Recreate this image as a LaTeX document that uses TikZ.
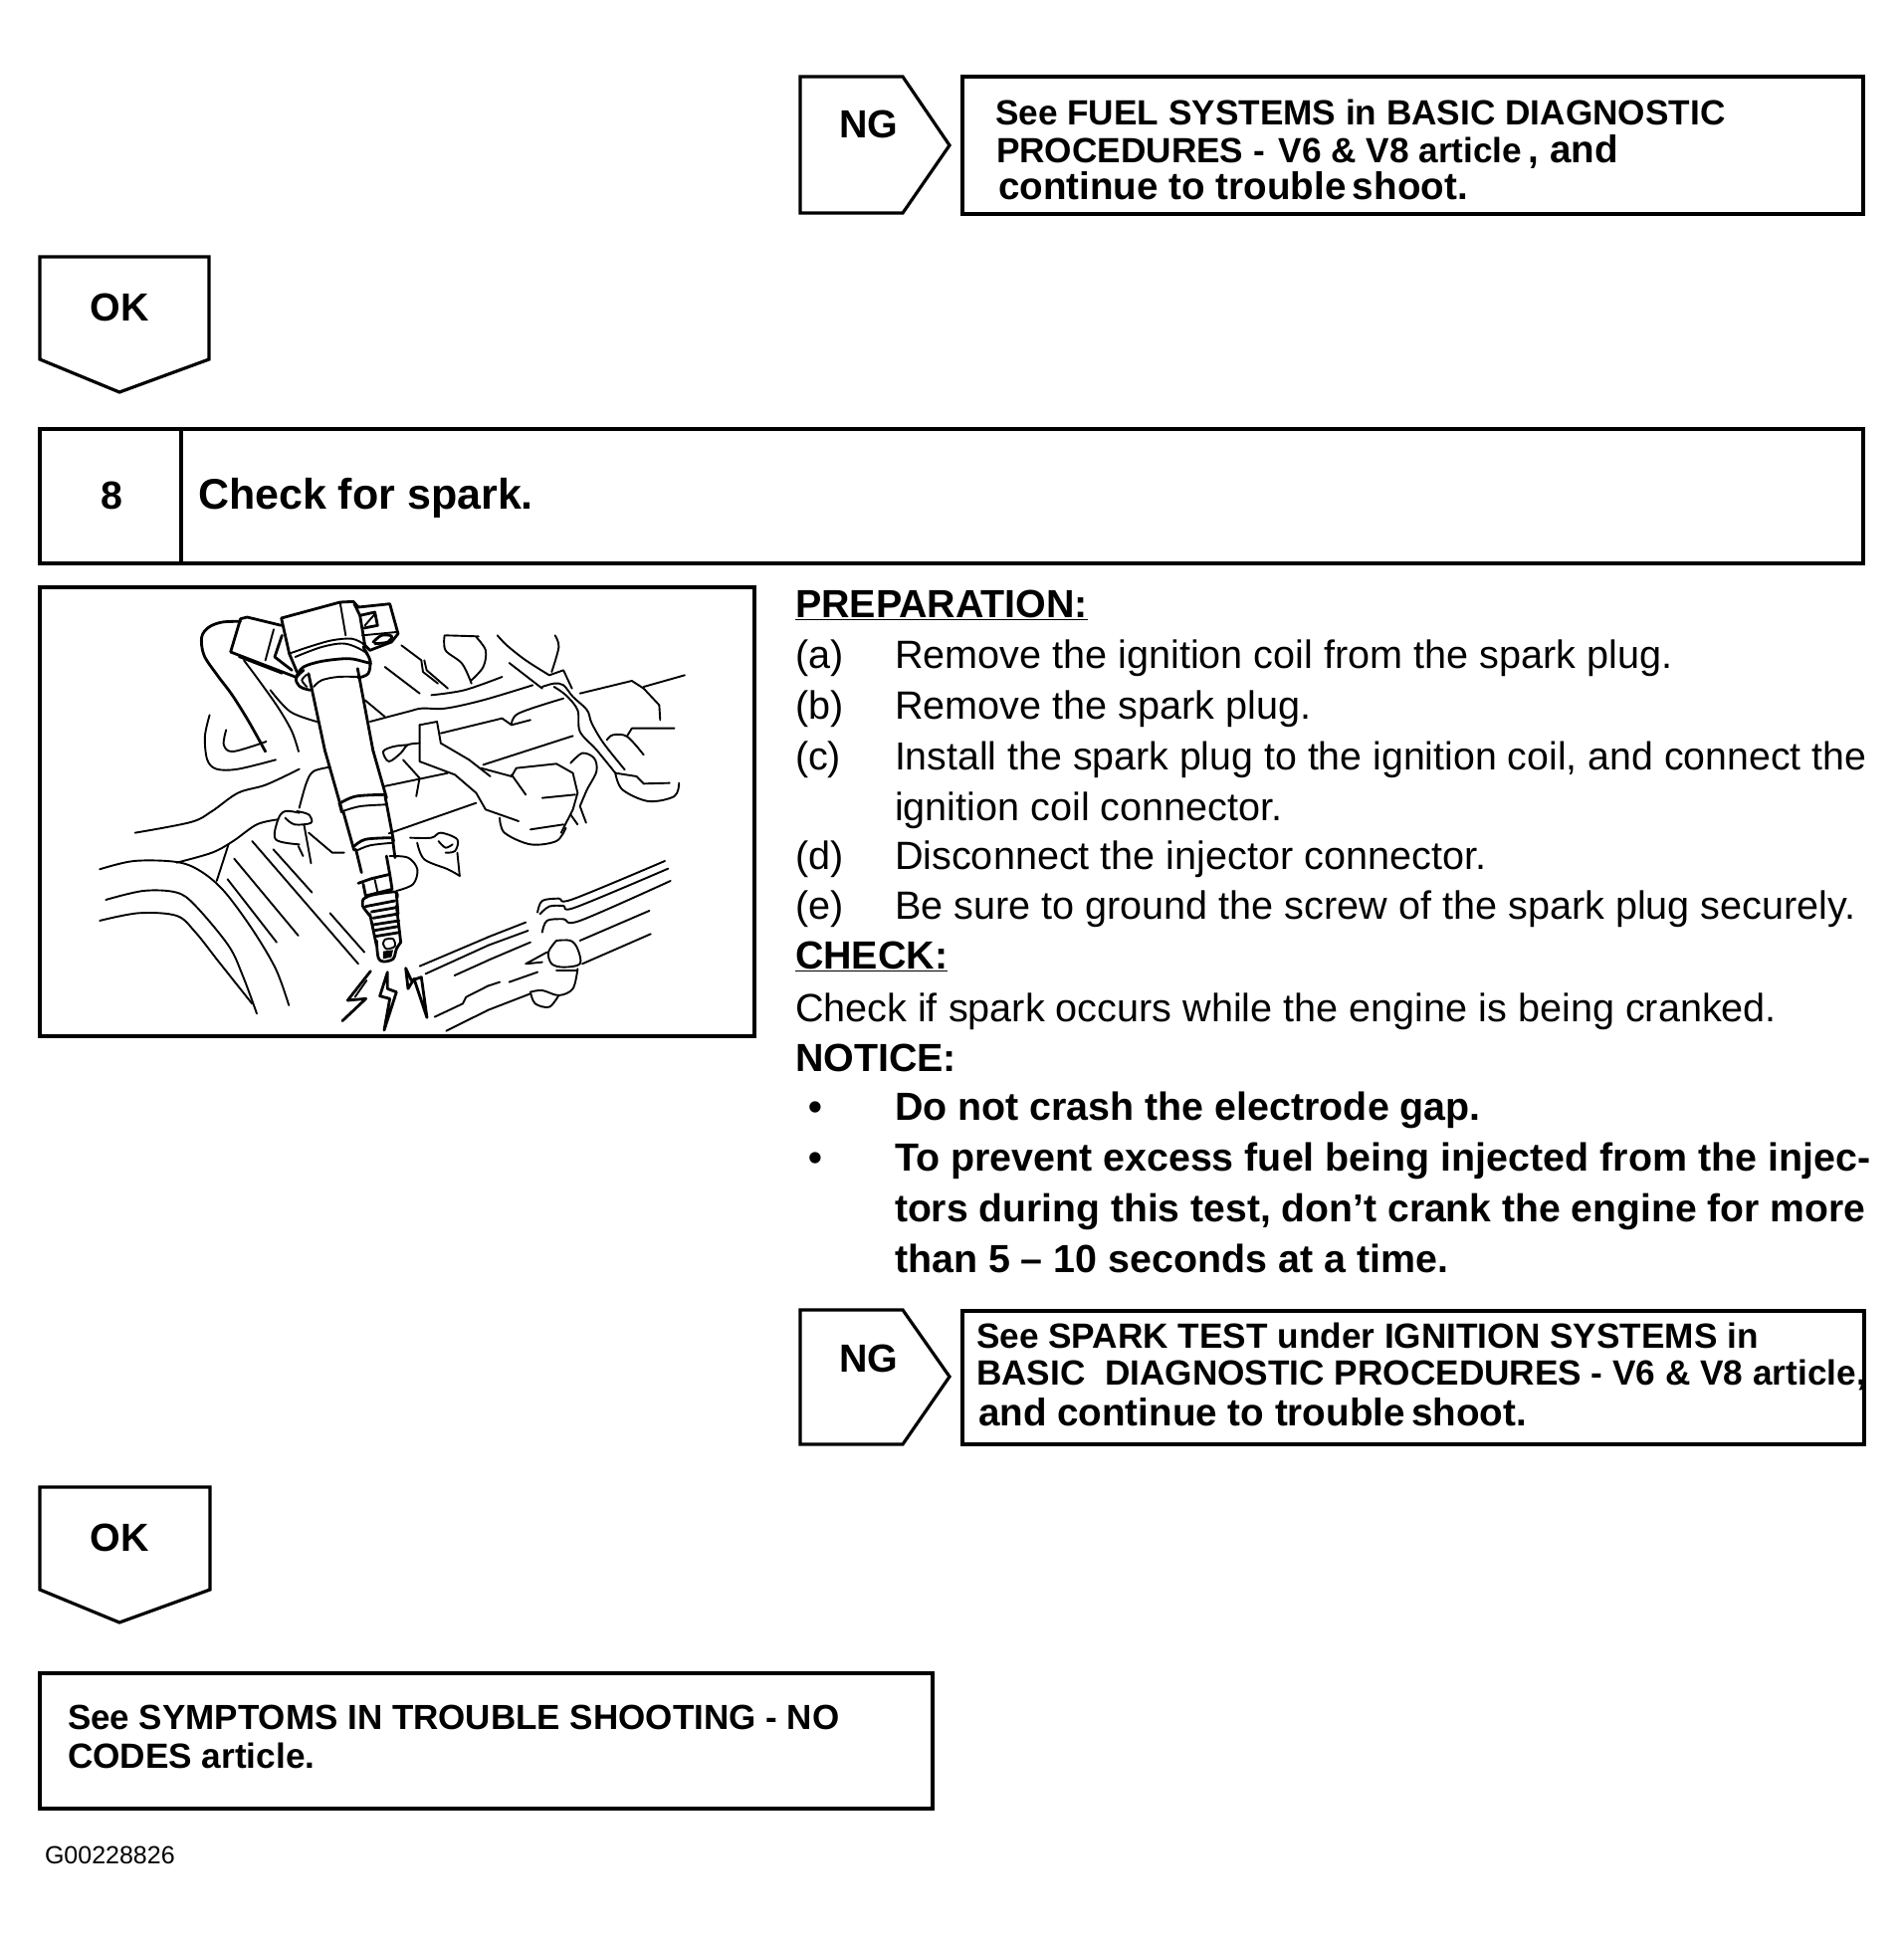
\documentclass[tikz,border=0pt]{standalone}
\usepackage{fontspec}
\setmainfont{Liberation Sans}
\newcommand{\rmtxt}{\fontsize{39.6}{44}\selectfont}
\newcommand{\bftxt}{\fontsize{35.2}{44}\selectfont\bfseries}
\newcommand{\bgtxt}{\fontsize{38.6}{44}\selectfont\bfseries}
\newcommand{\hdtxt}{\fontsize{39.4}{44}\selectfont\bfseries}
\newcommand{\smtxt}{\fontsize{25}{26}\selectfont}
\tikzset{
  frame/.style={line width=3.2pt,line join=miter,draw=black},
  boxn/.style={frame,anchor=north west,inner sep=0pt,outer sep=0pt},
  lab/.style={anchor=base west,inner sep=0pt,outer sep=0pt,text=black},
  rm/.style={lab,font=\rmtxt},
  bf/.style={lab,font=\bftxt},
  bg/.style={lab,font=\bgtxt},
  hd/.style={lab,font=\hdtxt},
  tag/.style={anchor=center,inner sep=0pt,font=\hdtxt},
  ill/.style={line width=1.9pt,line cap=round,line join=round,draw=black},
  illb/.style={line width=2.8pt,line cap=round,line join=round,draw=black},
}
\newcommand{\cv}[2][ill]{\draw[#1] plot[smooth,tension=.55] coordinates {#2};}
\begin{document}
\begin{tikzpicture}[x=1pt,y=-1pt]
\useasboundingbox (0,0) rectangle (1913,1948);
\fill[white] (0,0) rectangle (1913,1948);
% top NG
\draw[frame] (804,77)--(907,77)--(954,146)--(907,214)--(804,214)--cycle;
\node[tag] (ng1) at (873,125) {NG};
\node[boxn,minimum width=905pt,minimum height=138pt] (b1) at (967,77) {};
\node[bf] (t1a) at (1000,126) {See FUEL SYSTEMS in BASIC DIAGNOSTIC};
\node[bf] (t1b) at (1001,164) {PROCEDURES -\ \hspace{4pt}V6 \& V8 article{\bgtxt\,, and}};
\node[bg] (t1c) at (1003,200) {continue to trouble\,shoot.};
% OK 1
\draw[frame] (40,258)--(210,258)--(210,361)--(120,394)--(40,361)--cycle;
\node[tag] (ok1) at (120,309) {OK};
% step 8
\node[boxn,minimum width=1832pt,minimum height=135pt] (step) at (40,431) {};
\draw[frame] (182,431)--(182,566);
\node[tag] (n8) at (112,498) {8};
\node[lab,font=\fontsize{43}{44}\selectfont\bfseries] (head) at (199,511) {Check for spark.};
% illustration
\node[boxn,minimum width=718pt,minimum height=451pt] (pic) at (40,590) {};
% coil head, drawn from a 3x crop
\begin{scope}[shift={(190,595)},scale=0.3333]
\draw[illb] (302,185)--(278,78)--(455,30)--(495,28)--(510,45)--(605,35)--(630,125)--(610,150)--(545,175)--(525,155);
\cv[ill]{(302,185)(360,165)(430,145)(490,140)(525,155)}
\draw[ill] (455,30)--(472,130);
\draw[illb] (498,35)--(515,70)--(530,160);
\draw[illb] (515,70)--(560,60)--(568,100)--(527,108);
\draw[ill] (530,100)--(558,68);
\draw[ill] (522,130)--(625,120);
\cv[illb]{(555,150)(580,130)(610,132)(600,150)(560,155)}
\draw[illb] (302,185)--(325,240);
\cv[illb]{(525,165)(545,205)(540,245)(510,258)}
\cv[ill]{(320,195)(400,165)(470,155)(530,180)(548,210)}
\cv[illb]{(325,250)(345,225)(400,208)(480,200)(530,210)(548,215)}
\cv[illb]{(345,235)(322,260)(335,285)(365,295)}
\cv[ill]{(355,248)(340,265)(355,285)}
\cv[ill]{(375,285)(400,265)(450,255)(510,255)}
\draw[illb] (360,245)--(410,480);
\draw[illb] (508,230)--(555,480);
\draw[illb] (278,100)--(175,75)--(155,80)--(125,180)--(320,255);
\draw[ill] (150,195)--(280,245);
\draw[ill] (255,112)--(230,205);
\draw[illb] (280,130)--(258,195)--(310,235);
\cv[illb]{(155,88)(100,90)(60,105)(38,135)(45,190)(85,250)(130,310)(180,390)(230,480)}
\cv[ill]{(165,205)(210,265)(270,350)(310,420)(330,480)}
\cv[ill]{(245,295)(305,360)(385,390)}
\draw[ill] (640,160)--(700,205)--(705,240)--(750,275);
\draw[ill] (590,225)--(695,305);
\draw[ill] (530,325)--(590,375);
\end{scope}
\begin{scope}[shift={(30.5,580)},xscale=0.474,yscale=0.3333]
% tube and shoulders
\draw[illb] (625,525)--(660,700);
\draw[illb] (727,525)--(755,665);
\cv[illb]{(655,682)(690,660)(752,655)}
\draw[illb] (655,680)--(660,708);
\cv[ill]{(662,705)(700,690)(755,685)}
\draw[illb] (663,705)--(686,822);
\draw[illb] (752,660)--(770,795);
\cv[illb]{(685,812)(710,790)(765,785)}
\cv[ill]{(690,825)(720,808)(770,800)}
\draw[illb] (690,820)--(702,890);
\draw[illb] (768,790)--(773,845);
% plate behind
\draw[ill] (835,250)--(840,280)--(885,335);
\cv{(878,175)(880,220)(915,260)(935,320)}
\cv{(880,175)(950,178)}
\cv{(945,180)(965,220)(960,270)(935,310)}
\cv{(850,355)(920,340)(1000,300)}
\cv{(990,175)(1010,205)(1050,250)(1100,295)}
\cv{(1112,175)(1120,210)(1105,285)}
\draw[ill] (1015,258)--(1085,335);
\draw[ill] (1100,295)--(1130,280)--(1148,335);
\cv{(720,435)(800,405)(830,395)(880,395)(960,370)(1065,325)}
\cv{(1085,330)(1110,320)(1130,325)(1150,360)(1180,400)(1190,440)(1215,500)(1260,580)}
\cv{(1110,330)(1135,355)(1160,400)(1165,465)(1200,520)(1240,590)}
\draw[ill] (1165,350)--(1275,312)--(1300,335)--(1333,385)--(1335,430);
\draw[ill] (1300,330)--(1387,295);
\draw[ill] (870,470)--(1000,425)--(1020,445)--(1060,430);
\cv{(1020,445)(1035,410)(1130,365)}
\draw[ill] (960,565)--(1150,478);
\draw[ill] (1265,478)--(1275,455)--(1365,455);
\cv{(1222,490)(1235,475)(1265,480)(1300,535)}
\cv{(1240,590)(1255,640)(1310,675)(1365,660)(1375,620)}
\draw[ill] (1240,590)--(1285,600)--(1300,622)--(1355,620);
% bracket
\draw[ill] (825,445)--(862,435)--(870,500)--(930,550)--(975,600);
\draw[ill] (825,445)--(825,555)--(900,595)--(945,650)--(965,700)--(1035,735);
\cv{(800,505)(770,510)(748,525)(760,555)(785,530)(800,505)(825,500)}
\draw[ill] (790,550)--(825,605)--(818,660);
\draw[ill] (750,630)--(885,590);
\draw[ill] (760,772)--(945,680);
% injector
\draw[ill] (955,575)--(1020,600)--(1030,575)--(1115,562)--(1150,590)--(1160,650)--(1150,700)--(1125,770);
\draw[ill] (1020,595)--(1050,655);
\draw[ill] (1085,665)--(1155,655);
\draw[ill] (1060,760)--(1130,745);
\cv{(995,725)(1005,770)(1060,805)(1115,795)(1135,755)}
\cv{(1145,560)(1170,530)(1195,545)(1200,585)(1180,640)(1165,690)}
\draw[ill] (1165,690)--(1178,740);
\draw[ill] (1145,715)--(1160,745);
% left harness
\cv{(380,415)(370,480)(375,550)(395,578)(440,578)(520,550)}
\cv{(415,460)(410,505)(430,525)(500,495)}
\cv{(222,770)(340,738)(385,705)(440,650)(500,625)(570,578)}
\cv{(570,695)(585,620)(600,585)(635,572)}
\cv{(570,710)(540,705)(525,730)(520,790)(570,805)}
\cv{(540,725)(560,745)(595,740)(590,715)(565,705)}
\draw[ill] (568,810)--(578,840);
\draw[ill] (580,745)--(595,862);
\draw[ill] (590,770)--(640,830)--(665,830);
\cv{(525,730)(480,745)(430,795)(385,830)(310,860)}
\draw[ill] (420,805)--(395,915);
\cv{(147,880)(220,855)(310,858)(360,885)(410,945)(470,1060)(520,1180)(548,1290)}
\draw[ill] (418,910)--(522,1100);
\draw[ill] (432,848)--(568,1080);
\draw[ill] (470,795)--(695,1165);
\draw[ill] (515,820)--(597,950);
\draw[ill] (635,1012)--(708,1130);
\cv{(160,972)(240,945)(310,950)(350,990)(420,1110)(450,1200)(480,1315)}
\cv{(147,1035)(230,1012)(310,1020)(350,1070)(400,1160)(470,1285)}
% nuts right
\cv{(805,785)(850,785)(870,770)(905,790)(900,825)(880,830)}
\cv{(820,800)(835,850)(885,880)(910,900)}
\draw[ill] (905,830)--(910,900);
\cv{(865,795)(880,815)(895,805)}
% rail bottom right
\cv{(1075,1010)(1085,975)(1120,968)(1150,970)(1345,855)}
\cv{(1080,1015)(1100,992)(1130,990)(1155,995)(1352,878)}
\cv{(1085,1070)(1095,1035)(1130,1030)(1165,1035)(1357,915)}
\draw[ill] (1050,1040)--(969,1085);
\draw[ill] (1055,1065)--(969,1110);
\draw[ill] (1060,1100)--(969,1155);
\draw[ill] (1165,1095)--(1312,1005);
\draw[ill] (1170,1165)--(1315,1075);
\cv{(1115,1095)(1145,1095)(1160,1120)(1165,1165)(1130,1175)(1105,1165)(1098,1130)(1115,1095)}
\draw[ill] (1095,1130)--(1050,1165)--(1085,1160);
\draw[ill] (1115,1185)--(1160,1185);
\cv{(1160,1180)(1150,1240)(1120,1260)(1085,1245)(1060,1250)}
\cv{(1060,1250)(1070,1285)(1100,1295)(1120,1260)}
\draw[ill] (1015,1220)--(1075,1190);
\draw[ill] (995,1220)--(969,1232);
\draw[ill] (1060,1255)--(969,1305);
\end{scope}
% plug and sparks, drawn from a 3x crop
\begin{scope}[shift={(330,860)},scale=0.3333]
\draw[illb] (175,0)--(185,55);
\draw[illb] (90,82)--(130,68)--(185,55)--(192,100)--(112,120)--(105,85);
\draw[ill] (140,72)--(148,108);
\cv[illb]{(105,130)(130,118)(200,108)(207,125)}
\cv[illb]{(105,130)(103,150)(125,180)}
\draw[illb] (205,115)--(210,175);
\draw[illb] (125,175)--(145,270);
\draw[illb] (205,150)--(218,260);
\draw[illb] (112,152)--(200,135);
\draw[illb] (130,168)--(205,155);
\draw[illb] (135,187)--(205,175);
\draw[illb] (135,207)--(212,195);
\draw[illb] (140,224)--(212,212);
\draw[illb] (142,242)--(215,230);
\cv[illb]{(145,255)(150,305)(165,318)(195,310)(205,280)(218,260)}
\cv[ill]{(165,265)(170,252)(195,250)(200,272)(175,280)(165,265)}
\fill (165,287)--(195,283)--(190,305)--(165,310)--cycle;
\cv{(185,0)(240,5)(268,40)(255,85)(205,105)}
\draw[illb] (127,347)--(58,435)--(113,430)--(42,497);
\draw[ill] (115,375)--(80,425);
\draw[illb] (178,350)--(155,422)--(185,430)--(168,525)--(205,410)--(178,400)--cycle;
\draw[illb] (233,338)--(240,400)--(258,370)--(297,487)--(280,365)--(250,375)--cycle;
\draw[ill] (275,332)--(480,245);
\draw[ill] (293,355)--(480,270);
\draw[ill] (380,360)--(480,315);
\draw[ill] (320,485)--(405,445)--(415,425)--(480,392);
\draw[ill] (355,527)--(480,465);
\end{scope}
% right column
\node[hd] (prep) at (799,620) {\underline{PREPARATION:}};
\node[rm] (la) at (799,671) {(a)};
\node[rm] (ta) at (899,671) {Remove the ignition coil from the spark plug.};
\node[rm] (lb) at (799,722) {(b)};
\node[rm] (tb) at (899,722) {Remove the spark plug.};
\node[rm] (lc) at (799,773) {(c)};
\node[lab,font=\fontsize{39.3}{44}\selectfont] (tc) at (899,773) {Install the spark plug to the ignition coil, and connect the};
\node[rm] (tc2) at (899,824) {ignition coil connector.};
\node[rm] (ld) at (799,873) {(d)};
\node[rm] (td) at (899,873) {Disconnect the injector connector.};
\node[rm] (le) at (799,923) {(e)};
\node[rm] (te) at (899,923) {Be sure to ground the screw of the spark plug securely.};
\node[hd] (chk) at (799,973) {\underline{CHECK:}};
\node[rm] (tchk) at (799,1026) {Check if spark occurs while the engine is being cranked.};
\node[hd] (not) at (799,1076) {NOTICE:};
\node[hd] (bu1) at (812,1125) {•};
\node[hd] (n1) at (899,1125) {Do not crash the electrode gap.};
\node[hd] (bu2) at (812,1176) {•};
\node[hd] (n2) at (899,1176) {To prevent excess fuel being injected from the injec-};
\node[lab,font=\fontsize{39.1}{44}\selectfont\bfseries] (n3) at (899,1227) {tors during this test, don’t crank the engine for more};
\node[hd] (n4) at (899,1278) {than 5 – 10 seconds at a time.};
% second NG
\draw[frame] (804,1316)--(907,1316)--(954,1383)--(907,1451)--(804,1451)--cycle;
\node[tag] (ng2) at (873,1365) {NG};
\node[boxn,minimum width=906pt,minimum height=134pt] (b2) at (967,1317) {};
\node[bf] (t2a) at (981,1354) {See SPARK TEST under IGNITION SYSTEMS in};
\node[bf] (t2b) at (981,1391) {BASIC\ \ DIAGNOSTIC PROCEDURES - V6 \& V8 article,};
\node[bg] (t2c) at (983,1432) {and continue to trouble\,shoot.};
% OK 2
\draw[frame] (40,1494)--(211,1494)--(211,1597)--(120,1630)--(40,1597)--cycle;
\node[tag] (ok2) at (120,1545) {OK};
% last box
\node[boxn,minimum width=897pt,minimum height=136pt] (b3) at (40,1681) {};
\node[lab,font=\fontsize{35}{44}\selectfont\bfseries] (t3a) at (68,1737) {See SYMPTOMS IN TROUBLE SHOOTING - NO};
\node[bf] (t3b) at (68,1776) {CODES article.};
\node[lab,font=\smtxt] (code) at (45,1872) {G00228826};
\end{tikzpicture}
\end{document}
